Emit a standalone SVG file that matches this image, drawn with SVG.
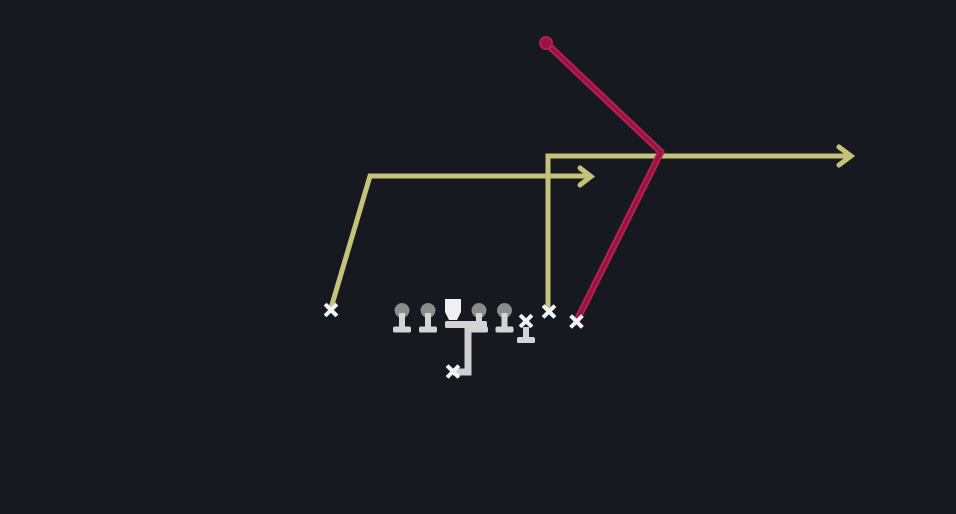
<svg xmlns="http://www.w3.org/2000/svg" width="956" height="514" viewBox="0 0 956 514">
  <defs>
    <style>
      .route { fill: none; stroke: #c5c27a; stroke-width: 5; stroke-linejoin: miter; stroke-linecap: butt; }
      .head { fill: none; stroke: #c5c27a; stroke-width: 5; stroke-linejoin: miter; stroke-linecap: round; }
      .block-glow { fill: none; stroke: #b81f50; stroke-width: 7; stroke-linejoin: round; stroke-linecap: round; }
      .block { fill: none; stroke: #951540; stroke-width: 3; stroke-linejoin: round; stroke-linecap: round; }
      .x { stroke: #f2f2f2; stroke-width: 4; stroke-linecap: square; }
      .lhead { fill: #8c8c8c; }
      .lbody { fill: #d4d4d4; }
      .snap { fill: none; stroke: #cfcfcf; stroke-width: 7; stroke-linejoin: miter; }
    </style>
  </defs>
  <rect width="956" height="514" fill="#161920"/>

  <g id="connectors">
    <path class="route" d="M331,308 L370,176 L590,176"/>
    <path class="head" d="M580,168 L591,176.5 L580,185"/>
    <path class="route" d="M548,310 L548,156 L850,156"/>
    <path class="head" d="M839,147 L851,156 L839,165"/>
    <path class="block-glow" d="M577,320 L661,152 L546,43"/>
    <path class="block" d="M577,320 L661,152 L546,43"/>
    <circle cx="546" cy="43" r="6" fill="#951540" stroke="#b81f50" stroke-width="2"/>
    <path class="snap" d="M453,372 L468,372 L468,324"/>
  </g>

  <g id="lt">
    <circle class="lhead" cx="402" cy="310.5" r="7.5"/>
    <rect class="lbody" x="399" y="313" width="6" height="15"/>
    <rect class="lbody" x="393" y="326.5" width="18" height="6" rx="1.5"/>
  </g>
  <g id="lg">
    <circle class="lhead" cx="428" cy="310.5" r="7.5"/>
    <rect class="lbody" x="425" y="313" width="6" height="15"/>
    <rect class="lbody" x="419" y="326.5" width="18" height="6" rx="1.5"/>
  </g>
  <g id="c">
    <path d="M445,299 L461,299 L461,312 L457,320 L449,320 L445,312 Z" fill="#f0f0f0"/>
    <rect class="lbody" x="445" y="321" width="42" height="7" rx="1.5"/>
  </g>
  <g id="rg">
    <circle class="lhead" cx="479" cy="310.5" r="7.5"/>
    <rect class="lbody" x="476" y="313" width="6" height="15"/>
    <rect class="lbody" x="470" y="326.5" width="18" height="6" rx="1.5"/>
  </g>
  <g id="rt">
    <circle class="lhead" cx="504.5" cy="310.5" r="7.5"/>
    <rect class="lbody" x="501.5" y="313" width="6" height="15"/>
    <rect class="lbody" x="495.5" y="326.5" width="18" height="6" rx="1.5"/>
  </g>
  <g id="te">
    <path class="x" d="M521.5,316.5 L530.5,325.5 M530.5,316.5 L521.5,325.5"/>
    <rect class="lbody" x="523" y="327" width="6" height="11"/>
    <rect class="lbody" x="517" y="337" width="18" height="6" rx="1.5"/>
  </g>
  <g id="qb">
    <path class="x" d="M448.5,367 L457.5,376 M457.5,367 L448.5,376"/>
  </g>
  <g id="wr-left">
    <path class="x" d="M326.5,305.5 L335.5,314.5 M335.5,305.5 L326.5,314.5"/>
  </g>
  <g id="wr-slot">
    <path class="x" d="M544.5,307 L553.5,316 M553.5,307 L544.5,316"/>
  </g>
  <g id="wr-right">
    <path class="x" d="M572,317 L581,326 M581,317 L572,326"/>
  </g>
</svg>
